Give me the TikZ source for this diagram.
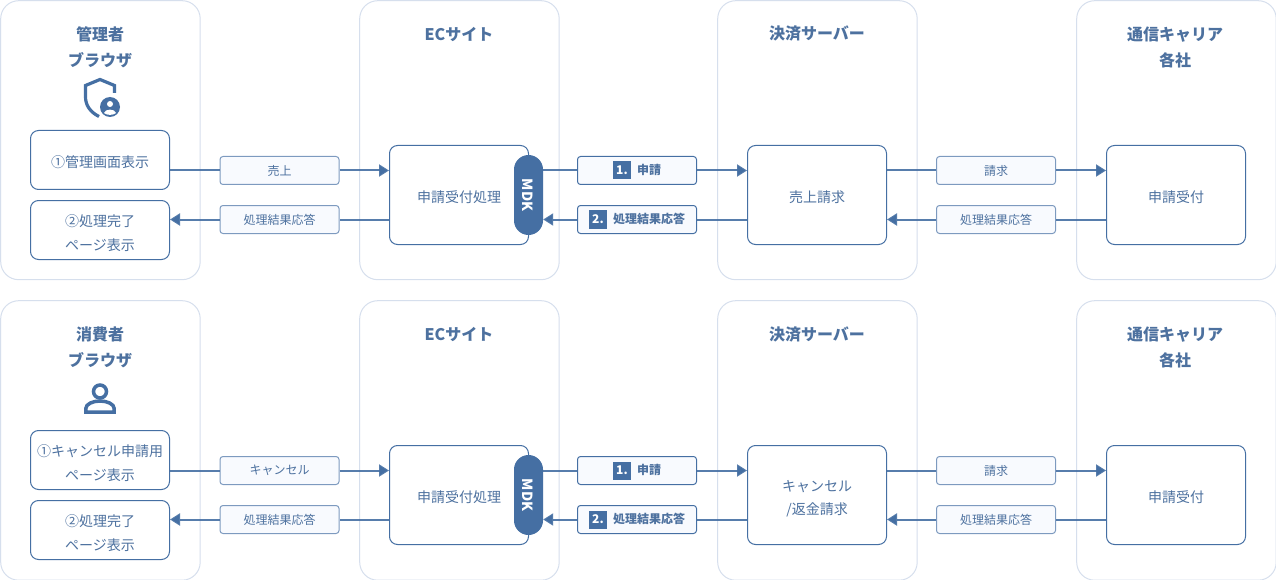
\documentclass[tikz,border=0pt]{standalone}
\usepackage{fontspec}
\setmainfont{Noto Sans CJK JP}
\usetikzlibrary{arrows.meta}
\definecolor{flowblue}{HTML}{456FA3}
\definecolor{flowtext}{HTML}{4D719F}
\definecolor{panelline}{HTML}{D6DFED}
\definecolor{labelfill}{HTML}{F8FAFE}
\newcommand{\numtag}[1]{{\fboxsep=0pt\colorbox{flowblue}{\makebox[18pt]{\rule[-5pt]{0pt}{18pt}\color{white}\bfseries #1}}\hspace{6pt}}}
\newcommand{\lowerline}{\rule{0pt}{18.4pt}}
\tikzset{
	panelbox/.style={draw=panelline,line width=1pt,rounded corners=18pt,fill=white,minimum width=199.5pt,anchor=north west},
	stepbox/.style={draw=flowblue,line width=1pt,rounded corners=8pt,fill=white,text=flowtext,minimum width=139pt,align=center,inner sep=0pt,font=\fontsize{14}{23.7}\selectfont,execute at begin node={\rule{0pt}{16pt}}},
	headtext/.style={text=flowtext,align=center,inner sep=0pt,font=\fontsize{16}{26}\selectfont\bfseries},
	flowlabel/.style={draw=flowblue!70!white,line width=1pt,rounded corners=3pt,fill=labelfill,text=flowtext,minimum width=119pt,minimum height=28pt,inner sep=0pt,font=\fontsize{12}{14}\selectfont},
	numlabel/.style={flowlabel,draw=flowblue,font=\fontsize{12}{14}\selectfont\bfseries},
	mdkpill/.style={fill=flowblue,text=white,rounded corners=14.5pt,minimum width=80pt,minimum height=29pt,inner sep=0pt,rotate=-90,text height=13pt,text depth=0pt,font=\fontsize{14}{16}\selectfont\bfseries},
	flowline/.style={draw=flowblue,line width=2pt,draw opacity=.9},
	flowarrow/.style={flowline,-{Triangle[length=10pt,width=12pt]}},
}
\begin{document}
\begin{tikzpicture}[x=1pt,y=-1pt]
	\useasboundingbox (0,0)rectangle(1276,580);
	%both rows
	\foreach \r/\yy/\phgt/\who/\first/\sendtxt/\srvtxt in {
		a/0/279/{管理者\\ブラウザ}/{①管理画面表示}/{売上}/{売上請求},
		b/300/279.5/{消費者\\ブラウザ}/{\lowerline ①キャンセル申請用\\ページ表示}/{キャンセル}/{\lowerline キャンセル\\/返金請求}}
	{
		\begin{scope}[yshift=-\yy pt]
			%columns
			\node [panelbox,minimum height=\phgt pt] (\r user) at (.2,.2) {};
			\node [panelbox,minimum height=\phgt pt] (\r ec) at (359.2,.2) {};
			\node [panelbox,minimum height=\phgt pt] (\r srv) at (717.2,.2) {};
			\node [panelbox,minimum height=\phgt pt] (\r car) at (1076.2,.2) {};
			\node [headtext] (\r userhead) at (100,47) {\who};
			\node [headtext] (\r echead) at (459,34) {ECサイト};
			\node [headtext] (\r srvhead) at (817,34) {決済サーバー};
			\node [headtext] (\r carhead) at (1175,47) {通信キャリア\\各社};
			%boxes
			\node [stepbox,minimum height=59pt] (\r first) at (100,160) {\first};
			\node [stepbox,minimum height=59pt] (\r done) at (100,230) {\lowerline ②処理完了\\ページ表示};
			\node [stepbox,minimum height=99pt] (\r accept) at (459,195) {申請受付処理};
			\node [stepbox,minimum height=99pt] (\r bill) at (817,195) {\srvtxt};
			\node [stepbox,minimum height=99pt] (\r recv) at (1176,195) {申請受付};
			\node [mdkpill] (\r mdk) at (528.5,195) {MDK};
			%labels
			\node [flowlabel] (\r send) at (279.5,170.5) {\sendtxt};
			\node [flowlabel] (\r back) at (279.5,219.5) {処理結果応答};
			\node [numlabel] (\r req) at (637,170.5) {\numtag{1.}申請};
			\node [numlabel] (\r res) at (637,219.5) {\numtag{2.}処理結果応答};
			\node [flowlabel] (\r claim) at (996,170.5) {請求};
			\node [flowlabel] (\r ans) at (996,219.5) {処理結果応答};
			%connectors
			\draw [flowline] (\r first.east|-\r send.west)--(\r send.west);
			\draw [flowarrow] (\r send.east)--(\r accept.west|-\r send.east);
			\draw [flowline] (\r accept.west|-\r back.east)--(\r back.east);
			\draw [flowarrow] (\r back.west)--(\r done.east|-\r back.west);
			\draw [flowline] (\r mdk.north|-\r req.west)--(\r req.west);
			\draw [flowarrow] (\r req.east)--(\r bill.west|-\r req.east);
			\draw [flowline] (\r bill.west|-\r res.east)--(\r res.east);
			\draw [flowarrow] (\r res.west)--(\r mdk.north|-\r res.west);
			\draw [flowline] (\r bill.east|-\r claim.west)--(\r claim.west);
			\draw [flowarrow] (\r claim.east)--(\r recv.west|-\r claim.east);
			\draw [flowline] (\r recv.west|-\r ans.east)--(\r ans.east);
			\draw [flowarrow] (\r ans.west)--(\r bill.east|-\r ans.west);
		\end{scope}
	}
	%shield icon
	\draw [flowblue,line width=3.2pt,line join=miter] (99,116.5) .. controls (90,112) and (85.5,105) .. (85.5,97)--(85.5,85.5)--(100,79.5)--(114.5,85.5)--(114.5,93);
	\fill [white] (110,107) circle[radius=12pt];
	\fill [flowblue] (110,107) circle[radius=10pt];
	\fill [white] (110,104) circle[radius=3pt];
	\fill [white] (104,113) .. controls (105,108.5) and (115,108.5) .. (116,113) .. controls (113,115.5) and (107,115.5) .. (104,113);
	%person icon
	\draw [flowblue,line width=3.5pt] (100,391.5) circle[radius=6.5pt];
	\draw [flowblue,line width=3.5pt,line join=miter] (85.8,412.2)--(85.8,408.5) .. controls (85.8,404) and (93,401) .. (100,401) .. controls (107,401) and (114.2,404) .. (114.2,408.5)--(114.2,412.2)--cycle;
\end{tikzpicture}
\end{document}
